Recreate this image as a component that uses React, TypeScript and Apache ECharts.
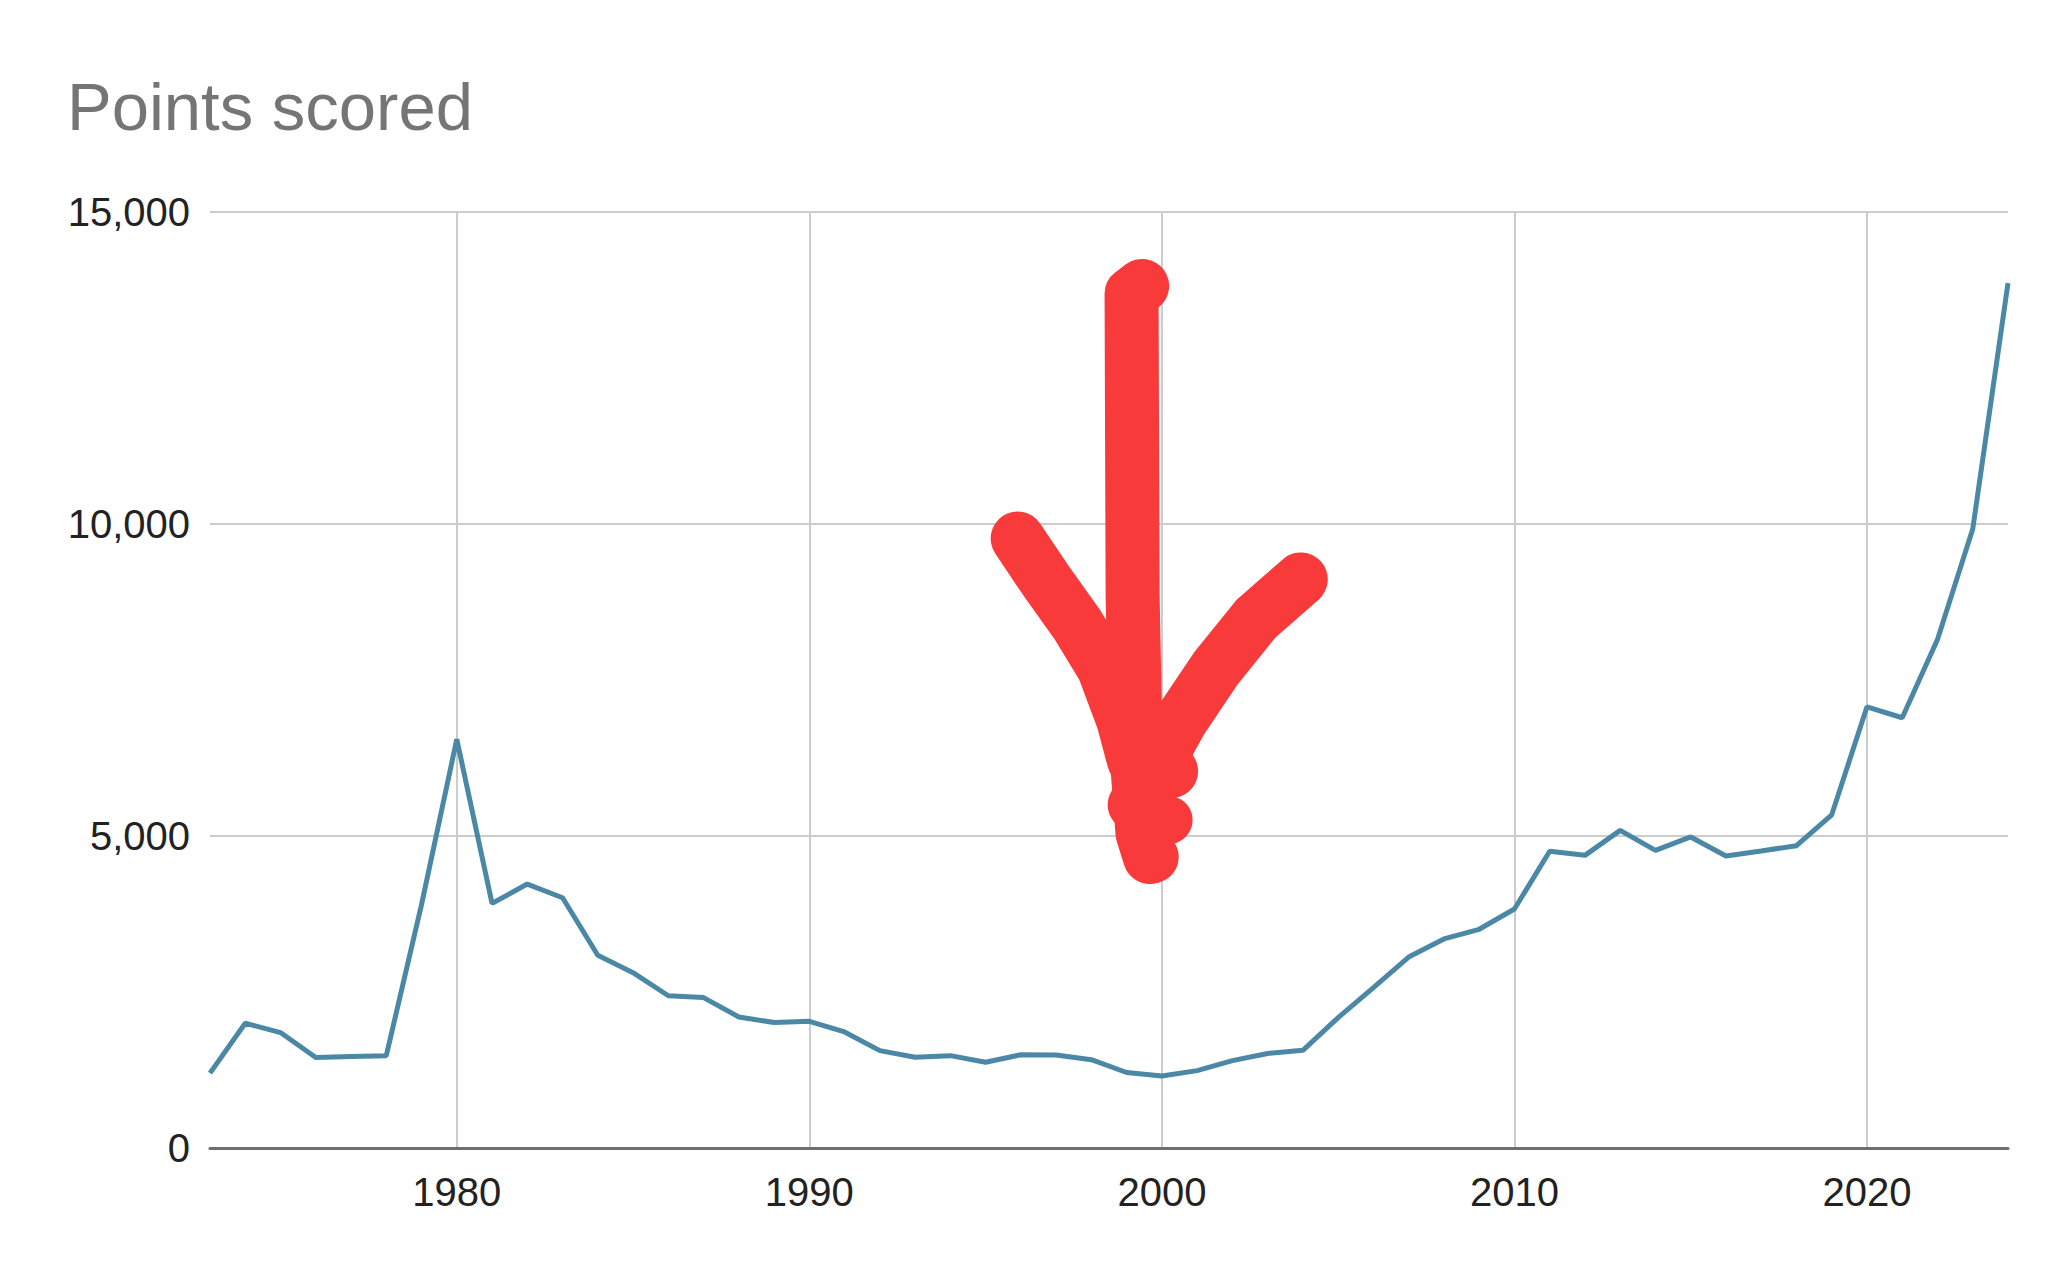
import React, { useEffect, useRef } from "react";
import * as echarts from "echarts";

const years = [
  1973, 1974, 1975, 1976, 1977, 1978, 1979, 1980, 1981, 1982, 1983, 1984, 1985,
  1986, 1987, 1988, 1989, 1990, 1991, 1992, 1993, 1994, 1995, 1996, 1997, 1998,
  1999, 2000, 2001, 2002, 2003, 2004, 2005, 2006, 2007, 2008, 2009, 2010, 2011,
  2012, 2013, 2014, 2015, 2016, 2017, 2018, 2019, 2020, 2021, 2022, 2023, 2024,
];

const points = [
  1200, 2000, 1850, 1450, 1465, 1480, 3900, 6550, 3920, 4230, 4010, 3090, 2810,
  2440, 2410, 2100, 2010, 2030, 1860, 1560, 1455, 1480, 1375, 1495, 1490, 1415,
  1210, 1155, 1240, 1400, 1515, 1565, 2090, 2570, 3060, 3350, 3505, 3830, 4755,
  4690, 5090, 4770, 4985, 4680, 4760, 4845, 5340, 7070, 6895, 8150, 9920, 13860,
];

const xTicks = [1980, 1990, 2000, 2010, 2020];
const yTicks = [0, 5000, 10000, 15000];

// Hand-drawn red arrow annotation, in data space (year, points)
const arrowShaft = [
  [1999.44, 13816],
  [1999.14, 13689],
  [1999.17, 8857],
  [1999.25, 6527],
  [1999.45, 5043],
  [1999.66, 4662],
];
const arrowLeft = [
  [1995.91, 9769],
  [1996.74, 9069],
  [1997.6, 8391],
  [1998.35, 7692],
  [1998.91, 6844],
  [1999.21, 6209],
];
const arrowRight = [
  [2003.94, 9112],
  [2002.66, 8476],
  [2001.54, 7692],
  [2000.53, 6844],
  [1999.81, 6103],
];
const arrowBlobs = [
  [2000.26, 6039, 27],
  [2000.19, 5255, 24],
  [1999.74, 4662, 26],
  [1998.95, 6738, 26],
  [1999.2, 5500, 26],
];

const FONT = "'Liberation Sans', Arial, sans-serif";
const RED = "#f83a3a";

export default function App() {
  const ref = useRef<HTMLDivElement>(null);

  useEffect(() => {
    if (!ref.current) return;
    const chart = echarts.init(ref.current, null, { renderer: "svg" });
    chart.setOption({
      animation: false,
      backgroundColor: "#ffffff",
      title: {
        text: "Points scored",
        left: 62,
        top: 68,
        textStyle: {
          fontFamily: FONT,
          fontSize: 67,
          fontWeight: "normal",
          color: "#757575",
        },
      },
      grid: { left: 210, right: 64, top: 212, bottom: 132, containLabel: false },
      xAxis: {
        type: "value",
        min: 1973,
        max: 2024,
        axisLine: { show: true, onZero: true, lineStyle: { color: "#6e6e6e", width: 3 } },
        axisTick: { show: false, customValues: xTicks },
        axisLabel: {
          customValues: xTicks,
          fontFamily: FONT,
          fontSize: 40,
          color: "#222222",
          margin: 24,
          formatter: (v: number) => String(v),
        },
        splitLine: { show: true, lineStyle: { color: "#cccccc", width: 2 } },
      },
      yAxis: {
        type: "value",
        min: 0,
        max: 15000,
        interval: 5000,
        axisLine: { show: false },
        axisTick: { show: false },
        axisLabel: {
          fontFamily: FONT,
          fontSize: 40,
          color: "#222222",
          margin: 20,
          formatter: (v: number) => (yTicks.includes(v) ? v.toLocaleString("en-US") : ""),
        },
        splitLine: { show: true, lineStyle: { color: "#cccccc", width: 2 } },
      },
      series: [
        {
          type: "line",
          data: years.map((y, i) => [y, points[i]]),
          showSymbol: false,
          symbol: "none",
          lineStyle: { color: "#4a88a6", width: 5 },
          z: 3,
        },
      ],
    });

    const px = (p: number[]) => chart.convertToPixel({ gridIndex: 0 }, [p[0], p[1]]) as number[];
    const stroke = (pts: number[][]) => ({
      type: "polyline",
      z: 100,
      shape: { points: pts.map(px) },
      style: {
        stroke: RED,
        lineWidth: 54,
        lineCap: "round",
        lineJoin: "round",
        fill: null,
      },
    });
    const blobs = arrowBlobs.map((b) => {
      const c = px(b);
      return {
        type: "circle",
        z: 100,
        shape: { cx: c[0], cy: c[1], r: b[2] },
        style: { fill: RED },
      };
    });
    chart.setOption({
      graphic: [stroke(arrowShaft), stroke(arrowLeft), stroke(arrowRight), ...blobs],
    });

    return () => chart.dispose();
  }, []);

  return (
    <div
      ref={ref}
      style={{ position: "fixed", left: 0, top: 0, width: 2072, height: 1280 }}
    />
  );
}
